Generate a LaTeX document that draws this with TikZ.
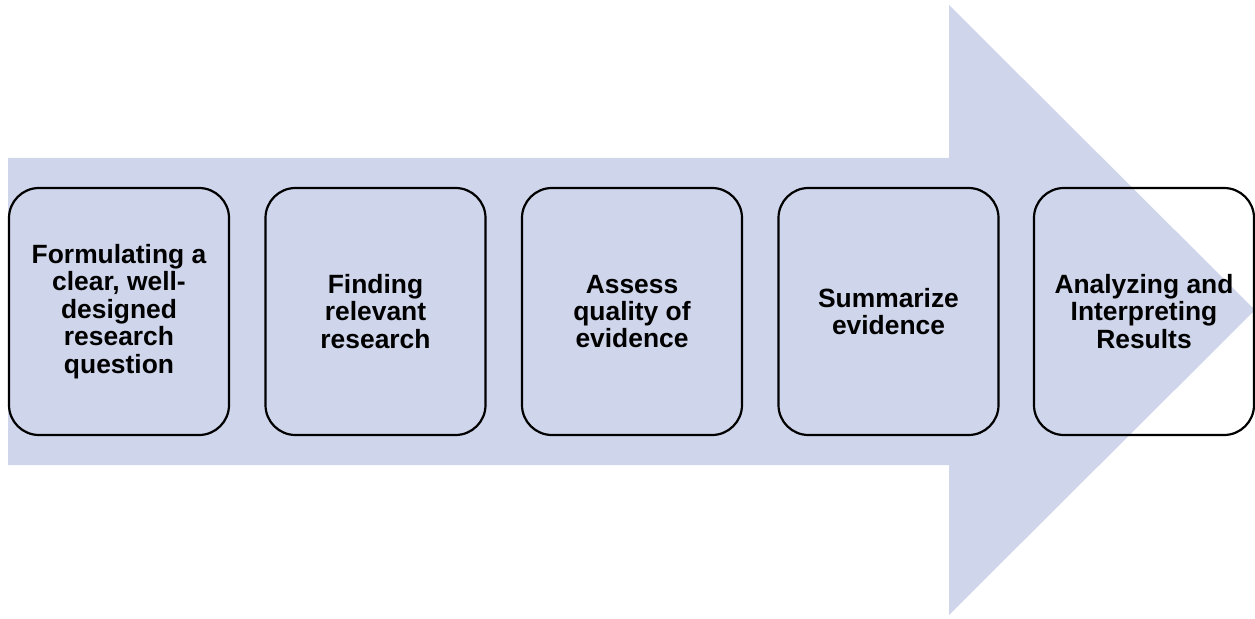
\documentclass[tikz,border=0pt]{standalone}
\usepackage{fontspec}
\setmainfont{Liberation Sans}
\usepackage{xcolor}

\definecolor{arrowblue}{RGB}{207,213,234}

\begin{document}
\begin{tikzpicture}[x=1bp,y=-1bp,
    every node/.style={draw=black, line width=2.2bp, rounded corners=30bp,
      minimum width=220bp, minimum height=247bp, align=center,
      font=\fontsize{26.5}{27.5}\selectfont\bfseries}]
    \useasboundingbox (0,0) rectangle (1255,619);

    % big block arrow behind the steps
    \fill[arrowblue] (8,158) -- (949,158) -- (949,5) -- (1255,310)
      -- (949,615) -- (949,465) -- (8,465) -- cycle;

    \node (question) at (119,311.5) {Formulating a\\clear, well-\\designed\\research\\question};
    \node (finding) at (375.5,311.5) {Finding\\relevant\\research};
    \node (assess) at (632,311.5) {Assess\\quality of\\evidence};
    \node (summarize) at (888.5,311.5) {Summarize\\evidence};
    \node (results) at (1144,311.5) {Analyzing and\\Interpreting\\Results};
\end{tikzpicture}
\end{document}
